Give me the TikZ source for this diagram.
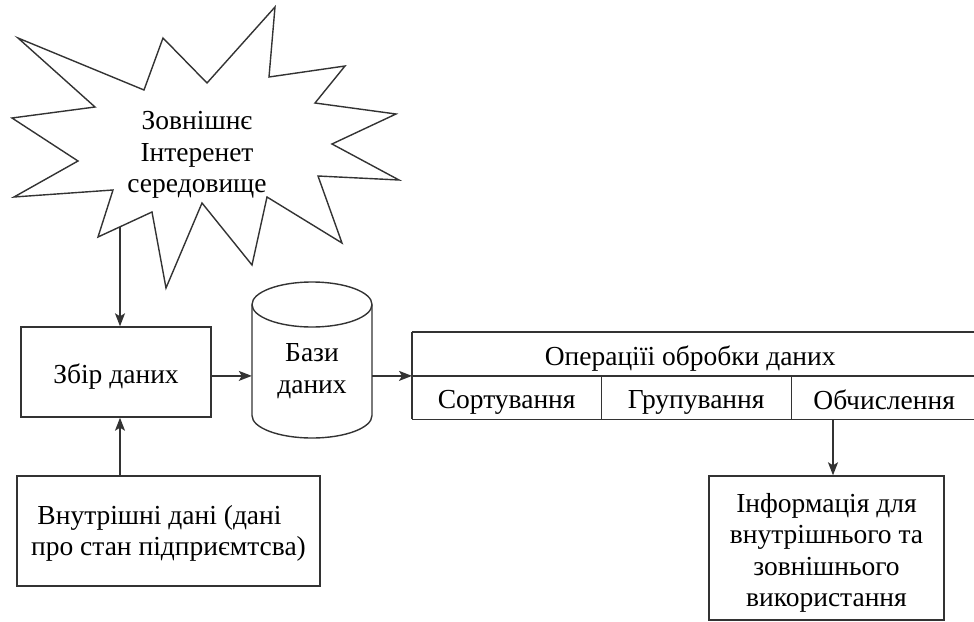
\documentclass[tikz,border=0pt]{standalone}
\usepackage{fontspec}
\setmainfont{Liberation Serif}
\usetikzlibrary{arrows.meta}

\tikzset{
  line/.style={line width=1.4pt, draw=black!80},
  arr/.style={line, -{Stealth[length=13pt,width=10pt,inset=3pt]}},
  txt/.style={font=\fontsize{27.5}{31.5}\selectfont, align=center, inner sep=0pt},
  box/.style={txt, line, rectangle},
  cell/.style={txt, draw=none, rectangle, anchor=north west}
}

\begin{document}
\begin{tikzpicture}[x=1pt, y=-1pt]
  \useasboundingbox (0,0) rectangle (974,621);
  \clip (0,0) rectangle (974,621);

  % explosion shape for the outside world
  \draw[line, line join=miter]
    (18,38) -- (144,90) -- (163,38) -- (207,83) -- (275,7) -- (269,77)
    -- (345,66) -- (315,103) -- (396,114) -- (332,144) -- (399,180)
    -- (318,176) -- (342,243) -- (267,197) -- (252,265) -- (202,203)
    -- (166,288) -- (152,212) -- (98,237) -- (113,190) -- (14,197)
    -- (78,161) -- (12,118) -- (95,107) -- cycle;
  \node[txt] (web) at (197,155) {Зовнішнє\\Інтеренет\\середовище};
  \coordinate (webfoot) at (120,227);

  % collection and internal data
  \node[box, text height=22pt, text depth=0pt, minimum width=190, minimum height=90] (zbir) at (116,372) {Збір даних};
  \node[box, minimum width=303, minimum height=110] (inner) at (168.5,531)
    {\rule{0pt}{24pt}Внутрішні дані (дані\hspace*{18pt}\\про стан підприємтсва)};

  % database cylinder
  \node[txt, minimum width=120, minimum height=156] (db) at (312,371) {Бази\\даних};
  \draw[line] (252,304.5) -- (252,415.5)
    arc[start angle=180, end angle=0, x radius=60, y radius=22.5] -- (372,304.5);
  \draw[line] (312,304.5) ellipse [x radius=60, y radius=22.5];

  % processing table
  \coordinate (tblend) at (990,0);
  \node[cell, text height=24pt, text depth=0pt, minimum width=556, minimum height=43.5] (ops) at (412,332) {Операціїі обробки даних};
  \node[cell, text height=22pt, text depth=0pt, minimum width=189, minimum height=43.5] (sort) at (412,375.5) {Сортування};
  \node[cell, text height=22pt, text depth=0pt, minimum width=190, minimum height=43.5] (group) at (601,375.5) {Групування};
  \node[cell, text height=25pt, text depth=0pt, minimum width=186, minimum height=43.5] (calc) at (791,375.5) {Обчислення};
  \draw[line] (ops.north west) -- (ops.north west -| tblend);
  \draw[line] (ops.south west) -- (ops.south west -| tblend);
  \draw[line] (sort.south west) -- (sort.south west -| tblend);
  \draw[line] (ops.north west) -- (sort.south west);
  \draw[line] (sort.north east) -- (sort.south east);
  \draw[line] (group.north east) -- (group.south east);

  % result
  \node[box, minimum width=235, minimum height=144] (info) at (826.5,548)
    {\rule{0pt}{29pt}Інформація для\\внутрішнього та\\зовнішнього\\використання};
  \coordinate (infotap) at (833,0);

  % connectors
  \draw[arr] (webfoot) -- (webfoot |- zbir.north);
  \draw[arr] (inner.north -| webfoot) -- (zbir.south -| webfoot);
  \draw[arr] (zbir.east |- ops.south west) -- (db.west |- ops.south west);
  \draw[arr] (db.east |- ops.south west) -- (ops.south west);
  \draw[arr] (calc.south -| infotap) -- (info.north -| infotap);
\end{tikzpicture}
\end{document}
